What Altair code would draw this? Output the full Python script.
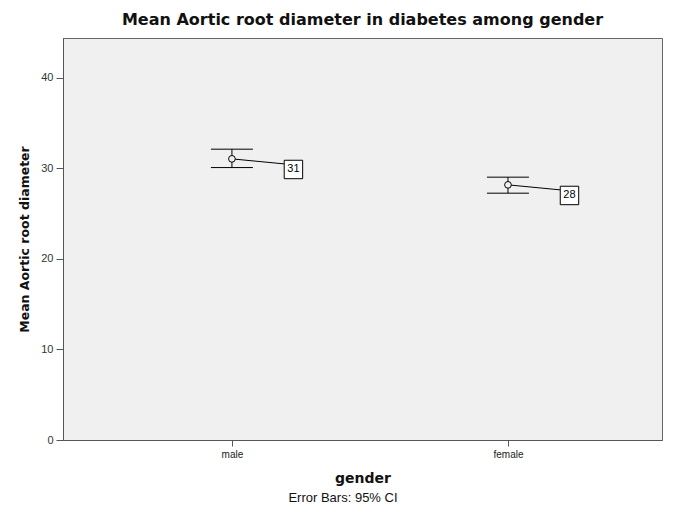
import altair as alt
import pandas as pd

genders = ["male", "female"]
means = [31.05, 28.18]
ci_lower = [30.09, 27.26]
ci_upper = [32.12, 29.03]
labels = ["31", "28"]

df = pd.DataFrame({
    "gender": genders,
    "idx": [1, 2],
    "mean": means,
    "lo": ci_lower,
    "hi": ci_upper,
    "label": labels,
})

xscale = alt.Scale(domain=[0.388, 2.558], nice=False, zero=False)
yscale = alt.Scale(domain=[0, 44.4], nice=False)

xenc = alt.X("idx:Q", scale=xscale, title="gender",
             axis=alt.Axis(values=[1, 2],
                           labelExpr="datum.value == 1 ? 'male' : 'female'",
                           grid=False, tickSize=6, labelPadding=3,
                           labelFontSize=10, labelColor="#222",
                           titleFontSize=14, titleFontWeight="bold",
                           titlePadding=12, titleColor="#111",
                           domainColor="#555", tickColor="#555",
                           labelFont="Liberation Sans", titleFont="DejaVu Sans"))
yenc = alt.Y("mean:Q", scale=yscale, title="Mean Aortic root diameter",
             axis=alt.Axis(values=[0, 10, 20, 30, 40], grid=False, tickSize=7,
                           labelPadding=3, labelFontSize=11, labelColor="#333",
                           titleFontSize=12.5, titleFontWeight="bold",
                           titlePadding=9, titleColor="#111",
                           domainColor="#555", tickColor="#555",
                           labelFont="Liberation Sans", titleFont="DejaVu Sans"))

base = alt.Chart(df)

vrule = base.mark_rule(color="black", strokeWidth=1).encode(
    x=xenc, y=alt.Y("lo:Q", scale=yscale), y2="hi:Q")
cap_hi = base.mark_rule(color="black", strokeWidth=1, xOffset=-21, x2Offset=21).encode(
    x=alt.X("idx:Q", scale=xscale), x2="idx:Q", y=alt.Y("hi:Q", scale=yscale))
cap_lo = base.mark_rule(color="black", strokeWidth=1, xOffset=-21, x2Offset=21).encode(
    x=alt.X("idx:Q", scale=xscale), x2="idx:Q", y=alt.Y("lo:Q", scale=yscale))
leader = base.mark_rule(color="black", strokeWidth=1, x2Offset=52, y2Offset=5).encode(
    x=alt.X("idx:Q", scale=xscale), x2="idx:Q", y=alt.Y("mean:Q", scale=yscale), y2="mean:Q")
points = base.mark_point(shape="circle", filled=True, fill="#f0f0f0", stroke="black",
                         strokeWidth=1, size=45, opacity=1).encode(x=alt.X("idx:Q", scale=xscale), y=yenc)
boxes = base.mark_point(shape="square", filled=True, fill="white", stroke="black",
                        strokeWidth=1, size=340, opacity=1, xOffset=61.5, yOffset=10.6).encode(
    x=alt.X("idx:Q", scale=xscale), y=alt.Y("mean:Q", scale=yscale))
texts = base.mark_text(fontSize=11, font="Liberation Sans", color="black",
                       xOffset=61.5, yOffset=10.6).encode(
    x=alt.X("idx:Q", scale=xscale), y=alt.Y("mean:Q", scale=yscale), text="label:N")
footnote = alt.Chart(pd.DataFrame({"t": ["Error Bars: 95% CI"]})).mark_text(
    fontSize=13, font="Liberation Sans", color="#111").encode(
    x=alt.value(280), y=alt.value(460), text="t:N")

chart = alt.layer(vrule, cap_hi, cap_lo, leader, points, boxes, texts, footnote).properties(
    width=599, height=402,
    autosize=alt.AutoSizeParams(type="none"),
    padding={"left": 55, "top": 30, "right": 12, "bottom": 67},
    title=alt.TitleParams("Mean Aortic root diameter in diabetes among gender",
                          fontSize=16, fontWeight="bold", font="DejaVu Sans",
                          color="#111", offset=10, anchor="middle"),
    background="white",
).configure_view(fill="#f0f0f0", stroke="#666", strokeWidth=1)

chart.save("out.html", embed_options={"renderer": "svg", "actions": False})
